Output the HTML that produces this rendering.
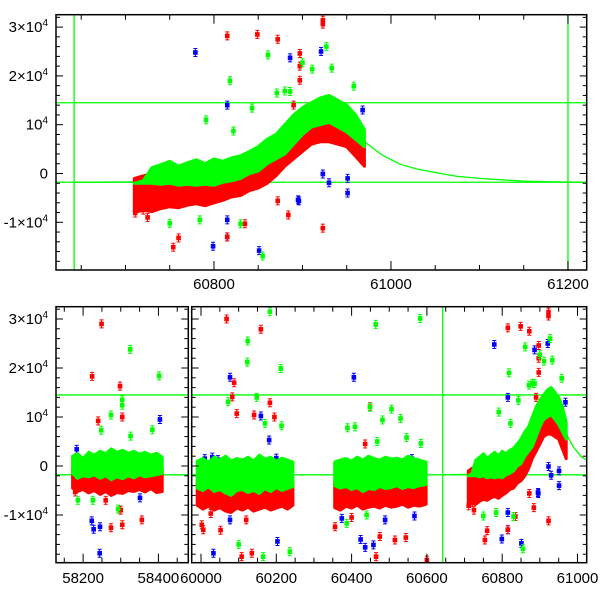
<!DOCTYPE html>
<html><head><meta charset="utf-8"><style>
body{margin:0;background:#fff}
svg{display:block}
text{font-family:"Liberation Sans",sans-serif;font-size:15px;fill:#000}
</style></head><body>
<svg id="chart" width="600" height="600" viewBox="0 0 600 600" xmlns="http://www.w3.org/2000/svg">
<defs>
<clipPath id="clipTop"><rect x="56" y="14.7" width="530.7" height="255.3"/></clipPath>
<clipPath id="clipS1"><rect x="56" y="306.7" width="132.3" height="256"/></clipPath>
<clipPath id="clipS2"><rect x="191.7" y="306.7" width="395" height="256"/></clipPath>
</defs>
<g id="layer"></g>
</svg>
<script>
// ---- data: dense-cloud envelopes (time, lo/hi per band) ----
const s1T=[58172,58185,58200,58215,58230,58245,58260,58275,58290,58305,58320,58335,58350,58365,58380,58395,58410];
const s1GHi=[2000,2500,1500,2800,2200,3000,2500,3500,2800,3200,2600,3000,2400,2800,2200,2600,1800];
const s1GLo=[-1500,-2500,-2000,-2200,-1800,-2500,-2000,-2800,-2200,-2600,-2000,-2400,-1800,-2200,-2000,-1800,-1500];
const s1RHi=[-500,-1000,-800,-600,-1000,-700,-1200,-900,-600,-1000,-800,-700,-900,-600,-800,-500,-400];
const s1RLo=[-4500,-5200,-4800,-5500,-5000,-5800,-5200,-6000,-5400,-5600,-5000,-5200,-4800,-5300,-4600,-5400,-5200];

const s2T=[59990,60005,60020,60035,60050,60065,60080,60095,60110,60125,60140,60155,60170,60185,60200,60215,60230,60244];
const s2GHi=[1000,1500,800,1800,1200,2000,1000,1500,1200,1800,1000,2200,1400,1800,1000,1600,1200,800];
const s2GLo=[-4500,-5000,-4200,-5200,-4800,-5500,-6000,-5000,-4800,-5400,-5000,-5600,-4600,-5200,-4400,-5000,-4600,-4200];
const s2RHi=[-3000,-2800,-3200,-2600,-3000,-2500,-3200,-2800,-3000,-2700,-3300,-2800,-3000,-2600,-3100,-2800,-3000,-3200];
const s2RLo=[-8000,-8800,-8200,-9000,-8500,-9200,-9500,-8600,-9000,-8400,-9200,-8800,-8400,-9000,-8600,-8200,-8800,-8000];

const s3T=[60355,60370,60385,60400,60415,60430,60445,60460,60475,60490,60505,60520,60535,60550,60565,60580,60598];
const s3GHi=[800,1200,1500,1000,1800,1200,2000,1500,1200,1800,1400,1600,1200,2000,1500,1200,800];
const s3GLo=[-4000,-4500,-4200,-4800,-4400,-5200,-4600,-4800,-4200,-4600,-4400,-4000,-4600,-4200,-4400,-4000,-3800];
const s3RHi=[-3200,-3500,-3000,-3600,-3200,-3400,-3000,-3500,-3200,-3400,-3000,-3300,-3500,-3200,-3400,-3000,-3200];
const s3RLo=[-8500,-9000,-8200,-8600,-8000,-8800,-8400,-8200,-8600,-8000,-8400,-8200,-7800,-8400,-8000,-8200,-7800];

const flT=[60710,60720,60730,60740,60750,60760,60770,60780,60790,60800,60810,60820,60830,60840,60850,60860,60870,60880,60890,60900,60910,60920,60930,60940,60950,60960,60970];
const flGHi=[-2000,-1500,1200,1800,2500,1500,2200,2800,2000,3000,2500,3200,3600,4500,5500,7000,8000,10000,12000,13500,14500,15500,16000,15000,14000,12000,9000];
const flGLo=[-2000,-2000,-2000,-2200,-2000,-2400,-2200,-2400,-2200,-2400,-1800,-1500,-1000,0,500,2000,3000,4000,6000,8000,9500,10000,10500,9500,8500,7000,5500];
const flRHi=[-1000,-500,0,-300,-500,-800,-400,-200,-600,0,200,500,800,1500,2500,3000,4000,5500,7000,8500,9500,10500,11000,10000,9500,8000,6500];
const flRLo=[-8000,-7500,-7800,-7200,-6800,-7000,-6500,-6200,-6600,-6000,-5500,-4800,-4500,-3500,-3000,-2000,-500,1500,3000,4500,6000,6500,6500,6000,5500,3500,1500];

// ---- data: individual outlier points [time, flux] ----
const redPts=[[60815,28200],[60849,28500],[60872,27500],[60923,31400],[60923,30600],[60897,24600],[60897,22000],[60897,19100],
[60711,-8100],[60720,-7500],[60754,-15100],[60760,-13200],[60815,-13000],[60835,-10300],[60923,-11200],[60872,-5600],[60884,-8500],[60725,-9000],[60880,9000],[60890,14000],
[58249,29000],[58224,18300],[58298,16300],[58304,10000],[58240,9200],[58356,-11000],[58274,-12600],[58304,-12000],[58179,-5300],[58300,-9000],[58260,-7000],
[60159,27900],[60068,30000],[60088,17000],[60083,14100],[60095,10700],[60183,12900],[60141,10400],[60195,10000],[60449,12100],[60436,4500],
[60002,-12000],[60006,-13000],[60026,-9700],[60052,-13100],[60108,-18500],[60135,-17800],[60356,-12400],[60465,-18500],[60515,-15100],[60544,-14600],[60600,-19200],[60475,-14400],[60120,-11000],[60400,-10500]];
const greenPts=[[60818,19000],[60791,11000],[60861,24300],[60871,16500],[60880,16900],[60843,13400],[60822,8700],[60750,-10200],[60784,-9500],[60830,-10300],[60855,-16900],
[60927,26000],[60933,21600],[60958,17900],[60900,22700],[60911,21400],[60886,16800],
[58325,23800],[58402,18400],[58304,13500],[58304,12400],[58274,10400],[58248,7300],[58384,7400],[58186,-7000],[58226,-7000],[58293,-8800],[58326,6100],
[60183,31500],[60124,25500],[60123,21200],[60212,19900],[60464,28900],[60582,30100],[60148,14000],[60170,8700],[60214,8200],[60449,12000],[60506,11600],[60482,9400],[60530,9700],[60389,7800],[60409,8000],[60468,5000],[60546,5800],[60584,4600],
[60165,-18500],[60236,-17500],[60387,-11700],[60072,13100],[60100,-16000],[60440,-10000]];
const bluePts=[[60779,24800],[60815,14000],[60799,-14900],[60851,-15800],[60895,-5400],[60923,-100],[60930,-1900],[60896,-5600],[60951,-4000],[60951,-1000],[60968,13000],[60921,25000],[60886,23700],[60815,-9500],[60815,-13000],
[58404,9500],[58223,-11200],[58228,-12900],[58245,-12400],[58244,-17800],[58351,-6500],[58183,3400],
[60077,18100],[60406,18100],[60159,10200],[60181,5300],[60203,-15400],[60033,-17800],[60436,-16600],[60424,-15000],[60458,-16100],[60567,-10200],[60489,-11000],[60374,-10700],[60077,-11000],
[60010,1500],[60030,1800],[60045,1300],[60200,1600],[60560,1500]];

// ---- data: model curve & reference lines ----
const modelT=[60640,60720,60760,60800,60850,60900,60930,60960,60970,60990,61010,61030,61050,61075,61100,61125,61150,61180,61220];
const modelV=[-1800,-1700,-1000,0,3000,9000,13000,9000,6500,3800,1900,900,200,-600,-1000,-1300,-1550,-1700,-1800];
const hLines=[14500,-1800];
const vLines=[60642,61200];
const yTicks=[-10000,0,10000,20000,30000];
const yTickLabels=[["-1×10","4"],["0",""],["10","4"],["2×10","4"],["3×10","4"]];
const topXTicks=[60800,61000,61200];
const botXTicks=[58200,58400,60000,60200,60400,60600,60800,61000];

const NS="http://www.w3.org/2000/svg";
const layer=document.getElementById('layer');
function mk(tag,attrs,parent){const e=document.createElementNS(NS,tag);for(const k in attrs)e.setAttribute(k,attrs[k]);(parent||layer).appendChild(e);return e;}

const pTop={x:t=>56+(t-60621.5)*0.885,y:v=>173.5-v*0.00488,x0:56,x1:586.7,y0:14.7,y1:270,t0:60621.5,t1:61221};
const pS1={x:t=>56+(t-58128)*0.3765,y:v=>466-v*0.0049,x0:56,x1:188.3,y0:306.7,y1:562.7,t0:58128,t1:58480};
const pS2={x:t=>201+(t-60000)*0.3765,y:v=>466-v*0.0049,x0:191.7,x1:586.7,y0:306.7,y1:562.7,t0:59975,t1:61024};
const cols={r:'#ff0000',g:'#00ff00',b:'#0000ff'};

function band(p,g,T,lo,hi,col,name){
  let d='M'+T.map((t,i)=>p.x(t).toFixed(1)+','+p.y(hi[i]).toFixed(1)).join('L');
  for(let i=T.length-1;i>=0;i--)d+='L'+p.x(T[i]).toFixed(1)+','+p.y(lo[i]).toFixed(1);
  const e=mk('path',{d:d+'Z',fill:col,stroke:col,'stroke-width':3,'stroke-linejoin':'round'},g);
  
  
}
function pts(p,g,arr,col,name){
  arr.forEach(a=>{
    if(a[0]<p.t0||a[0]>p.t1)return;
    const x=p.x(a[0]),y=p.y(a[1]);
    const grp=mk('g',{},g);
    
    
    mk('line',{x1:x,x2:x,y1:y-4,y2:y+4,stroke:col,'stroke-width':1},grp);
    mk('line',{x1:x-2,x2:x+2,y1:y-4,y2:y-4,stroke:col,'stroke-width':1},grp);
    mk('line',{x1:x-2,x2:x+2,y1:y+4,y2:y+4,stroke:col,'stroke-width':1},grp);
    mk('rect',{x:x-2.3,y:y-2.3,width:4.6,height:4.6,fill:col},grp);
  });
}
function curve(p,g){
  const d='M'+modelT.map((t,i)=>p.x(t).toFixed(1)+','+p.y(modelV[i]).toFixed(1)).join('L');
  const e=mk('path',{d:d,fill:'none',stroke:'#00ff00','stroke-width':1.3},g);
  
  
}
function refLines(p,g){
  hLines.forEach(v=>{const e=mk('line',{x1:p.x0,x2:p.x1,y1:p.y(v),y2:p.y(v),stroke:'#00ff00','stroke-width':1.3},g);
    
    });
  vLines.forEach(t=>{if(t<p.t0||t>p.t1)return;const e=mk('line',{x1:p.x(t),x2:p.x(t),y1:p.y0,y2:p.y1,stroke:'#00ff00','stroke-width':1.3},g);
    
    });
}
function frame(p,name){
  const g=mk('g',{});
  
  
  mk('rect',{x:p.x0,y:p.y0,width:p.x1-p.x0,height:p.y1-p.y0,fill:'none',stroke:'#000','stroke-width':1.5},g);
  for(let v=-20000;v<=32000;v+=2000){const y=p.y(v);if(y<p.y0||y>p.y1)continue;const L=(v%10000===0)?7:4;
    mk('line',{x1:p.x0,x2:p.x0+L,y1:y,y2:y,stroke:'#000','stroke-width':1},g);
    mk('line',{x1:p.x1,x2:p.x1-L,y1:y,y2:y,stroke:'#000','stroke-width':1},g);}
  for(let t=Math.ceil(p.t0/50)*50;t<=p.t1;t+=50){const x=p.x(t);const L=(t%200===0)?9:5;
    mk('line',{x1:x,x2:x,y1:p.y1,y2:p.y1-L,stroke:'#000','stroke-width':1},g);
    mk('line',{x1:x,x2:x,y1:p.y0,y2:p.y0+L,stroke:'#000','stroke-width':1},g);}
  return g;
}
function ylabels(p,name){
  yTicks.forEach((v,i)=>{const t=mk('text',{x:48,y:p.y(v)+5,'text-anchor':'end'});
    
    
    t.textContent=yTickLabels[i][0];
    if(yTickLabels[i][1]){const s=mk('tspan',{dy:-6,'font-size':10},t);s.textContent=yTickLabels[i][1];}
  });
}
function xlabels(p,ticks,yy,name){
  ticks.forEach(t=>{if(t<p.t0||t>p.t1)return;const e=mk('text',{x:p.x(t),y:yy,'text-anchor':'middle'});
    
    
    e.textContent=t;});
}
function panel(p,clip,name,regions){
  const g=mk('g',{'clip-path':'url(#'+clip+')'});
  
  
  refLines(p,g);
  curve(p,g);
  pts(p,g,bluePts,cols.b,'blue-point');
  regions.forEach(r=>band(p,g,r[0],r[3],r[4],cols.r,'red-cloud'));
  pts(p,g,redPts,cols.r,'red-point');
  regions.forEach(r=>band(p,g,r[0],r[1],r[2],cols.g,'green-cloud'));
  pts(p,g,greenPts,cols.g,'green-point');
}
const FL=[flT,flGLo,flGHi,flRLo,flRHi];
panel(pTop,'clipTop','top-panel',[FL]);
panel(pS1,'clipS1','bottom-panel-segment-1',[[s1T,s1GLo,s1GHi,s1RLo,s1RHi]]);
panel(pS2,'clipS2','bottom-panel-segment-2',[[s2T,s2GLo,s2GHi,s2RLo,s2RHi],[s3T,s3GLo,s3GHi,s3RLo,s3RHi],FL]);
frame(pTop,'top-frame');frame(pS1,'bottom-frame-1');frame(pS2,'bottom-frame-2');
ylabels(pTop,'top-y-tick-label');ylabels(pS1,'bottom-y-tick-label');
xlabels(pTop,topXTicks,289,'top-x-tick-label');
xlabels(pS1,botXTicks,583,'bottom-x-tick-label');xlabels(pS2,botXTicks,583,'bottom-x-tick-label');
</script>
</body></html>
